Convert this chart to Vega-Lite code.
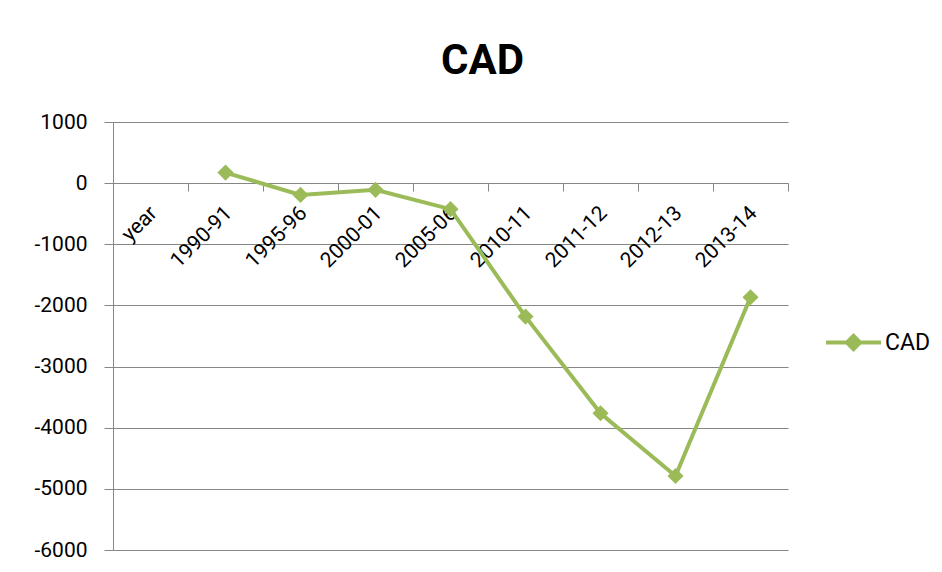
{
  "$schema": "https://vega.github.io/schema/vega-lite/v6.json",
  "autosize": "none",
  "width": 675,
  "height": 428,
  "padding": {"left": 113, "top": 122, "right": 154, "bottom": 22},
  "background": "white",
  "title": {"text": "CAD", "font": "Roboto", "fontSize": 42, "fontWeight": "bold", "color": "#000000", "anchor": "middle", "dx": 32, "offset": 28},
  "data": {
    "values": [
      {"period": "year", "series": "CAD", "value": null},
      {"period": "1990-91", "series": "CAD", "value": 173},
      {"period": "1995-96", "series": "CAD", "value": -192},
      {"period": "2000-01", "series": "CAD", "value": -110},
      {"period": "2005-06", "series": "CAD", "value": -425},
      {"period": "2010-11", "series": "CAD", "value": -2183},
      {"period": "2011-12", "series": "CAD", "value": -3764},
      {"period": "2012-13", "series": "CAD", "value": -4790},
      {"period": "2013-14", "series": "CAD", "value": -1866}
    ]
  },
  "encoding": {
    "x": {
      "field": "period", "type": "nominal", "sort": null, "bandPosition": 0.5,
      "scale": {"type": "band", "paddingInner": 0, "paddingOuter": 0,
        "domain": ["year", "1990-91", "1995-96", "2000-01", "2005-06", "2010-11", "2011-12", "2012-13", "2013-14"]},
      "axis": {"title": null, "orient": "bottom", "offset": -367, "labelAngle": -45, "labelAlign": "right", "labelBaseline": "top", "tickBand": "extent",
        "tickSize": 8, "labelPadding": 11, "labelOffset": -5, "labelFontSize": 21, "labelFont": "Roboto", "labelColor": "#000000",
        "domainColor": "#868686", "tickColor": "#868686", "grid": false}
    },
    "y": {
      "field": "value", "type": "quantitative",
      "scale": {"domain": [-6000, 1000], "nice": false, "zero": false},
      "axis": {"title": null, "values": [-6000, -5000, -4000, -3000, -2000, -1000, 0, 1000], "grid": true,
        "gridColor": "#868686", "domainColor": "#868686", "tickColor": "#868686", "tickSize": 9,
        "labelPadding": 17, "labelFontSize": 21, "labelFont": "Roboto", "labelColor": "#000000",
        "labelExpr": "'' + datum.value"}
    },
    "color": {
      "field": "series", "type": "nominal",
      "scale": {"range": ["#9BBB59"]},
      "legend": {"title": null, "orient": "none", "legendX": 711, "legendY": 191, "padding": 0,
        "symbolType": "M-1,0L1,0M0,-0.24L0.24,0L0,0.24L-0.24,0Z", "symbolSize": 3025,
        "symbolStrokeWidth": 4, "symbolFillColor": "#9BBB59", "symbolStrokeColor": "#9BBB59",
        "labelFontSize": 23, "labelFont": "Roboto", "labelColor": "#000000", "labelOffset": 2}
    }
  },
  "layer": [
    {"mark": {"type": "line", "strokeWidth": 4}},
    {"mark": {"type": "point", "shape": "diamond", "filled": true, "size": 260, "opacity": 1}}
  ],
  "config": {"view": {"stroke": null}}
}
